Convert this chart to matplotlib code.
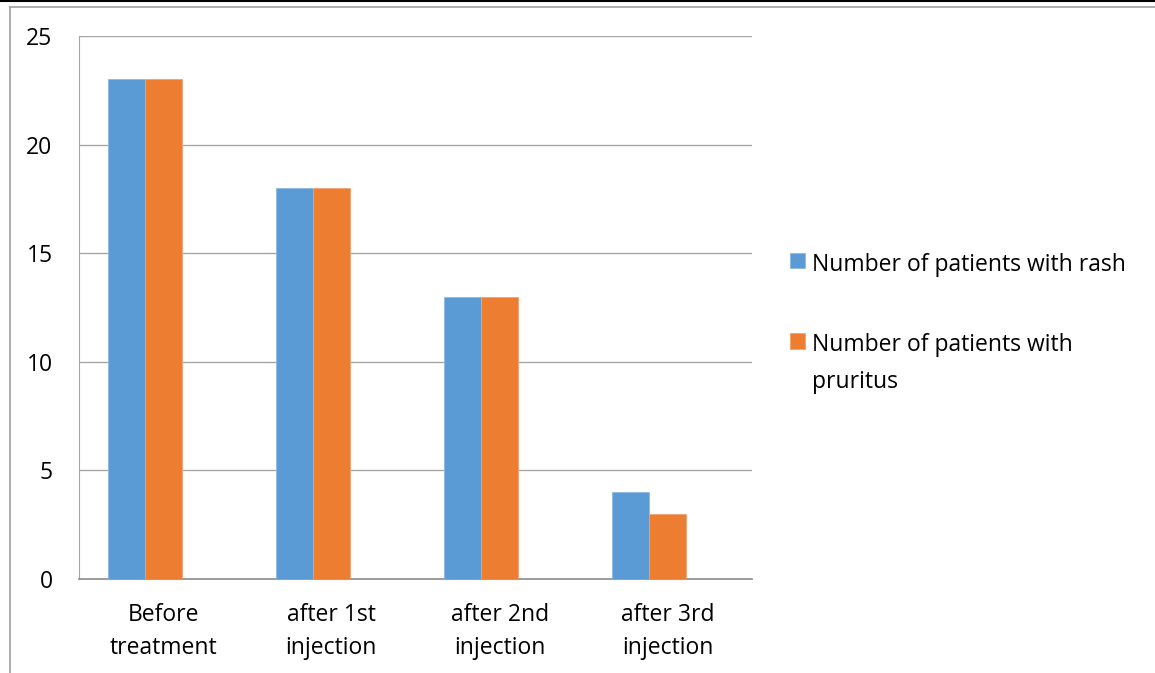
import numpy as np
import matplotlib.pyplot as plt
from matplotlib.lines import Line2D

# Data
categories = ['Before\ntreatment', 'after 1st\ninjection', 'after 2nd\ninjection', 'after 3rd\ninjection']
rash = [23, 18, 13, 4]
pruritus = [23, 18, 13, 3]
series_names = ['Number of patients with rash', 'Number of patients with\npruritus']
y_ticks = [0, 5, 10, 15, 20, 25]

plt.rcParams['font.family'] = ['Open Sans', 'DejaVu Sans']

fig = plt.figure(figsize=(11.55, 6.73), dpi=100)
W, H = 1155, 673
ax = fig.add_axes([79 / W, 1 - 579 / H, (752 - 79) / W, (579 - 36) / H])

x = np.arange(len(categories))
w = 0.22
ax.bar(x - w, rash, w, color='#5B9BD5', edgecolor='#8DB8E3', linewidth=0.6, label=series_names[0], zorder=3)
ax.bar(x, pruritus, w, color='#ED7D31', edgecolor='#F2A271', linewidth=0.6, label=series_names[1], zorder=3)

ax.set_xlim(-0.5, len(categories) - 0.5)
ax.set_ylim(0, 25)
ax.set_yticks(y_ticks)
ax.set_xticks(x)
ax.set_xticklabels(categories, fontsize=16.5, linespacing=1.5)
ax.tick_params(axis='y', labelsize=16.5, length=0, pad=19)
ax.tick_params(axis='x', length=0, pad=17)
ax.grid(axis='y', color='#A6A6A6', linewidth=1.0, zorder=0)

for s in ['top', 'right']:
    ax.spines[s].set_visible(False)
ax.spines['left'].set_color('#A6A6A6')
ax.spines['bottom'].set_color('#8C8C8C')
ax.spines['bottom'].set_linewidth(1.2)

leg = ax.legend(loc='upper left', bbox_to_anchor=(781 / W, 1 - 244 / H), bbox_transform=fig.transFigure,
                frameon=False, fontsize=16.5, handlelength=0.65, handleheight=0.65, handletextpad=0.3,
                labelspacing=2.45, borderaxespad=0)
for t in leg.get_texts():
    t.set_linespacing(1.7)
# keep the colour square next to the first text line
for col in leg._legend_handle_box.get_children():
    for item in col.get_children():
        item.align = 'top'

# outer frame lines
fig.add_artist(Line2D([0, 1], [1 - 1 / H, 1 - 1 / H], color='black', linewidth=1.5, transform=fig.transFigure))
fig.add_artist(Line2D([10 / W, 1], [1 - 7 / H, 1 - 7 / H], color='#A0A0A0', linewidth=1.2, transform=fig.transFigure))
fig.add_artist(Line2D([10 / W, 10 / W], [0, 1 - 7 / H], color='#A0A0A0', linewidth=1.2, transform=fig.transFigure))

fig.savefig('out.png', dpi=100)
